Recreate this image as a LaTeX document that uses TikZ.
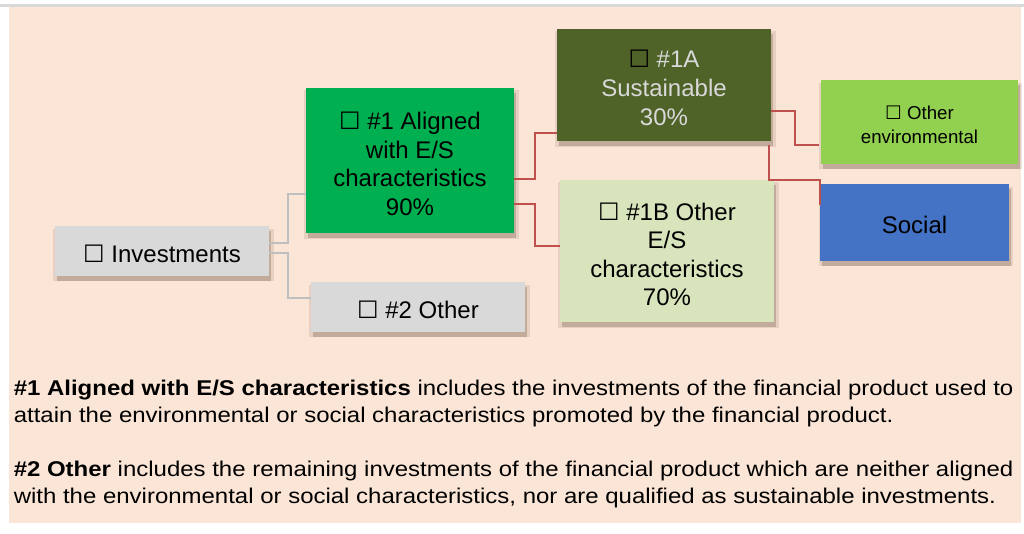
\documentclass[tikz,border=0pt]{standalone}
\usepackage{fontspec}
\setmainfont{Liberation Sans}
\newfontfamily\symfont{DejaVu Sans}
\newfontfamily\widefont[FakeStretch=1.124]{Liberation Sans}
\usetikzlibrary{calc,shadows}
\definecolor{peach}{HTML}{FBE5D6}
\definecolor{topline}{HTML}{D9D9D9}
\definecolor{boxgray}{HTML}{D9D9D9}
\definecolor{grn}{HTML}{00B050}
\definecolor{olivebox}{HTML}{4F6228}
\definecolor{lgreen}{HTML}{D8E4BC}
\definecolor{limebox}{HTML}{92D050}
\definecolor{bluebox}{HTML}{4472C4}
\definecolor{redline}{HTML}{C0504D}
\definecolor{grayline}{HTML}{BFBFBF}
\definecolor{lighttext}{HTML}{D9D9D9}
\definecolor{shc}{HTML}{6E5646}
\newcommand{\cb}{\rule{0pt}{1em}{\symfont\char"2610}}
\newcommand{\tstrut}{\rule{0pt}{0.95em}}
\begin{document}
\begin{tikzpicture}[x=0.75pt,y=-0.75pt,
  sz/.style 2 args={minimum width=#1*0.75pt, minimum height=#2*0.75pt},
  box/.style={inner sep=0pt, align=center, text=black,
    font=\fontsize{18}{21.4}\selectfont,
    general shadow={fill=shc, opacity=.14, shadow xshift=1pt, shadow yshift=-3pt, shadow scale=1.03},
    general shadow={fill=shc, opacity=.3, shadow xshift=1.5pt, shadow yshift=-3.5pt}},
  gline/.style={draw=grayline, line width=1.5pt},
  rline/.style={draw=redline, line width=1.5pt}]
\useasboundingbox (0,0) rectangle (1024,533);
\fill[topline] (0,3.5) rectangle (1024,6.5);
\fill[peach] (9,6.5) rectangle (1021,523);

\node[box, fill=boxgray, sz={214}{50}] (inv) at (162,251) {\cb\ Investments};
\node[box, fill=grn, sz={208}{145}] (a1) at (410,160.5) {\cb\ \#1 Aligned\\with E/S\\characteristics\\90\%};
\node[box, fill=boxgray, sz={214}{50}] (o2) at (418,307) {\cb\ \#2 Other};
\node[box, fill=olivebox, text=lighttext, sz={214}{112}, font=\fontsize{18}{21.8}\selectfont] (s1a) at (664,85) {{\color{black}\cb}\ \#1A\\Sustainable\\30\%};
\node[box, fill=lgreen, sz={214}{142}] (o1b) at (667,251) {\cb\ \#1B Other\\E/S\\characteristics\\70\%};
\node[box, fill=limebox, sz={197}{84}, font=\fontsize{14}{18}\selectfont] (env) at (919.5,122) {\cb\ Other\\environmental};
\node[box, fill=bluebox, sz={189}{77}] (soc) at (914.5,222.5) {\tstrut Social};

\draw[gline] ($(inv.east)+(0,-8)$) -- ++(19,0) |- ($(a1.west)+(0,33.5)$);
\draw[gline] ($(inv.east)+(0,2)$) -- ++(19,0) |- ($(o2.west)+(0,-9.5)$);
\draw[rline] ($(a1.east)+(0,18.5)$) -- ++(21,0) |- ($(s1a.west)+(0,48)$);
\draw[rline] ($(a1.east)+(0,43)$) -- ++(21,0) |- ($(o1b.west)+(0,-5)$);
\draw[rline] ($(s1a.east)+(0,26)$) -- ++(24,0) |- ($(env.west)+(-2,23)$);
\draw[rline] ($(s1a.south east)+(-2,4)$) -- ++(0,35) -| ($(soc.west)+(0,-17.5)$);

\node[anchor=north west, align=left, inner sep=0pt, font=\widefont\fontsize{16}{20.1}\selectfont] (txt) at (13.5,379.5)
{\textbf{\#1 Aligned with E/S characteristics} includes the investments of the financial product used to\\
attain the environmental or social characteristics promoted by the financial product.\\[21pt]
\textbf{\#2 Other} includes the remaining investments of the financial product which are neither aligned\\
with the environmental or social characteristics, nor are qualified as sustainable investments.};
\end{tikzpicture}
\end{document}
